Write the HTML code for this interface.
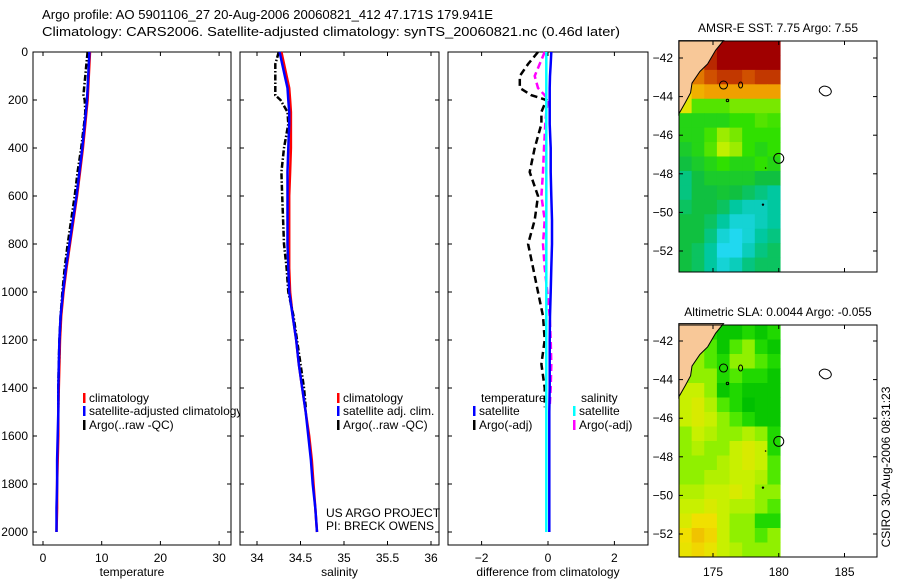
<!DOCTYPE html>
<html><head><meta charset="utf-8"><style>
body{margin:0;background:#fff;}
svg{display:block;font-family:"Liberation Sans",sans-serif;}
text{font-size:12px;fill:#000;}
</style></head><body>
<svg id="fig" width="900" height="580" viewBox="0 0 900 580">
<text x="42" y="19" textLength="451" lengthAdjust="spacingAndGlyphs" style="font-size:13px">Argo profile: AO 5901106_27 20-Aug-2006 20060821_412 47.171S 179.941E</text>
<text x="42" y="36" textLength="578" lengthAdjust="spacingAndGlyphs" style="font-size:13px">Climatology: CARS2006. Satellite-adjusted climatology: synTS_20060821.nc (0.46d later)</text>
<g id="g"></g>
</svg>
<script>
// ---------- data ----------
const depths = [0,50,100,150,200,250,300,400,500,600,700,800,900,1000,1100,1200,1300,1400,1500,1600,1700,1800,1900,2000];
const tempClim = [8.0,7.9,7.8,7.7,7.6,7.4,7.2,6.8,6.3,5.8,5.2,4.6,4.0,3.5,3.1,2.9,2.8,2.7,2.6,2.6,2.5,2.4,2.4,2.3];
const tempSat  = [7.9,7.8,7.7,7.6,7.5,7.3,7.1,6.7,6.2,5.7,5.1,4.5,3.9,3.4,3.0,2.8,2.7,2.6,2.6,2.5,2.4,2.4,2.3,2.3];
const argoDepths = [0,50,100,150,180,200,250,300,400,500,600,700,800,900,1000,1100,1200,1300,1400,1480];
const tempArgo = [7.6,7.4,7.2,7.0,6.9,7.1,7.2,7.0,6.5,5.9,5.4,4.8,4.2,3.7,3.3,3.0,2.8,2.7,2.6,2.6];
const salClim = [34.28,34.31,34.34,34.37,34.38,34.39,34.39,34.39,34.38,34.37,34.37,34.37,34.37,34.38,34.41,34.45,34.48,34.52,34.56,34.60,34.63,34.65,34.67,34.69];
const salSat  = [34.26,34.29,34.32,34.35,34.36,34.37,34.37,34.36,34.35,34.35,34.35,34.35,34.36,34.37,34.41,34.45,34.48,34.52,34.56,34.59,34.62,34.64,34.67,34.69];
const salArgo = [34.25,34.21,34.21,34.21,34.21,34.27,34.35,34.36,34.31,34.28,34.29,34.30,34.31,34.34,34.36,34.42,34.46,34.50,34.54,34.56];
const dTempSat = [0.1,0.08,0.06,0.05,0.05,0.05,0.05,0.08,0.08,0.1,0.12,0.12,0.1,0.08,0.06,0.05,0.05,0.05,0.04,0.04,0.04,0.04,0.04,0.04];
const dSalSat  = [-0.05,-0.05,-0.05,-0.05,-0.05,-0.05,-0.05,-0.05,-0.05,-0.05,-0.05,-0.05,-0.05,-0.05,-0.05,-0.05,-0.05,-0.05,-0.05,-0.05,-0.05,-0.05,-0.05,-0.05];
const dTempArgo = [-0.3,-0.6,-0.85,-0.85,-0.5,-0.05,-0.2,-0.2,-0.4,-0.55,-0.3,-0.4,-0.6,-0.45,-0.3,-0.15,-0.1,-0.2,-0.1,-0.1];
const dSalArgo = [-0.1,-0.25,-0.4,-0.3,-0.1,0,-0.05,-0.08,-0.12,-0.15,-0.2,-0.1,-0.15,-0.1,-0.02,0.05,0.08,0.1,0.08,0.05];

const tempTicks = [0,10,20,30];
const salTicks = [34,34.5,35,35.5,36];
const salTickLabels = ["34","34.5","35","35.5","36"];
const diffTicks = [-2,0,2];
const depthTicks = [0,200,400,600,800,1000,1200,1400,1600,1800,2000];

const sstGrid = [
[13.3,11,12.5,13.3,13.3,13.3,13.3,13.3],
[11.5,11.5,12.5,13.2,13.2,13.2,13.2,13.2],
[11,11.5,12,12.3,12.3,12,12.3,12.3],
[10.3,10.8,11,11,11,11,11,11],
[10,9,9,9,9.2,9.2,9.2,9.2],
[8.6,8.6,8.6,8.6,8.8,8.8,9,8.9],
[8.6,8.6,8.9,9.4,9.2,8.8,8.8,8.8],
[8.4,8.6,9.0,9.6,9.4,8.8,8.6,8.8],
[8.2,8.4,8.6,8.8,8.6,8.6,8.8,8.6],
[7.8,8.2,8.4,8.4,8.4,8.4,8.2,8.2],
[7.8,8.2,8.2,8.3,8.2,8.0,7.8,7.6],
[8.0,8.2,8.2,8.0,7.6,7.4,7.4,7.6],
[8.2,8.2,8.0,7.6,7.2,7.2,7.4,7.6],
[8.2,8.2,7.8,7.2,7.0,7.2,7.6,7.8],
[8.2,8.0,7.6,7.0,7.0,7.4,7.8,8.0],
[8.2,8.0,7.6,7.2,7.4,7.8,8.0,8.0]];
const slaGrid = [
[0,0.05,-0.05,-0.1,-0.1,-0.05,-0.1,-0.05],
[0,0.05,0,-0.1,0,0.05,-0.05,-0.1],
[0.05,0.05,0,-0.05,0.05,0.05,0,-0.05],
[0.05,0.05,0.05,-0.05,0,-0.05,-0.05,-0.1],
[0.1,0.1,0.05,-0.1,-0.05,-0.1,-0.1,-0.1],
[0.1,0.12,0.08,0,-0.05,-0.12,-0.1,-0.1],
[0.1,0.12,0.1,0.05,0,-0.05,-0.1,-0.1],
[0.05,0.1,0.08,0.05,0.05,0.08,0.05,-0.05],
[0.05,0.08,0.05,0.05,0.1,0.12,0.1,-0.05],
[0.05,0.05,0.05,0.08,0.1,0.12,0.1,0],
[0.05,0.05,0.08,0.08,0.1,0.1,0.08,0],
[0.08,0.08,0.1,0.1,0.12,0.1,0.05,0.05],
[0.1,0.1,0.12,0.1,0.08,0.08,0.05,0],
[0.12,0.15,0.15,0.1,0.05,0.05,-0.05,-0.05],
[0.15,0.18,0.16,0.1,0.05,0.05,0,0.05],
[0.14,0.16,0.14,0.1,0.08,0.05,0.05,0.05]];
const latTicks = [-42,-44,-46,-48,-50,-52];
const lonTicks = [175,180,185];

// ---------- helpers ----------
const NS="http://www.w3.org/2000/svg";
const G=document.getElementById('g');
function mk(tag,attrs,parent){const e=document.createElementNS(NS,tag);for(const k in attrs)e.setAttribute(k,attrs[k]);(parent||G).appendChild(e);return e;}
function txt(x,y,s,anchor,parent){const t=mk('text',{x:x,y:y,'text-anchor':anchor||'start'},parent);t.textContent=s;return t;}
const yD = d => 52 + d*0.24;
const PT = {x0:33,x1:231}, PS={x0:240,x1:439}, PD={x0:448,x1:648};
const xT = v => 43 + v*5.87;
const xS = v => 257 + (v-34)*87;
const xD = v => 548 + v*33.2;

function line(xs,ds,xf,color,dash,w,name){
  const pts = xs.map((v,i)=>xf(v).toFixed(1)+','+yD(ds[i]).toFixed(1)).join(' ');
  const p = mk('polyline',{points:pts,fill:'none',stroke:color,'stroke-width':w||2.5,'stroke-dasharray':dash||'none'});
  
  
}
function panel(P,xticks,xf,labels,xlabel,name){
  const r = mk('rect',{x:P.x0,y:52,width:P.x1-P.x0,height:493,fill:'#fff',stroke:'#000','stroke-width':1});
  
  
  xticks.forEach((v,i)=>{const x=xf(v);
    mk('line',{x1:x,y1:545,x2:x,y2:541,stroke:'#000'});mk('line',{x1:x,y1:52,x2:x,y2:56,stroke:'#000'});
    const t=txt(x,562,labels[i],'middle');
    
    
  });
  depthTicks.forEach(d=>{const y=yD(d);
    mk('line',{x1:P.x0,y1:y,x2:P.x0+4,y2:y,stroke:'#000'});mk('line',{x1:P.x1,y1:y,x2:P.x1-4,y2:y,stroke:'#000'});});
  const xl=txt((P.x0+P.x1)/2,576,xlabel,'middle');
  
  
}
function legendEntry(x,y,color,label,name){
  mk('rect',{x:x,y:y-9,width:2.5,height:10,fill:color});
  const t=txt(x+6,y,label);
  
  
}

// ---------- temperature panel ----------
panel(PT,tempTicks,xT,tempTicks.map(String),'temperature','temperature-panel');
depthTicks.forEach(d=>{const t=txt(28,yD(d)+4,String(d),'end');
  
  });
line(tempClim,depths,xT,'#f00',null,2.5,'temperature-climatology-line');
line(tempArgo,argoDepths,xT,'#000','6,2,1.5,2',2.5,'temperature-argo-line');
line(tempSat,depths,xT,'#00f',null,2.5,'temperature-satellite-line');
legendEntry(83,402,'#f00','climatology','temp-legend-climatology');
legendEntry(83,415,'#00f','satellite-adjusted climatology','temp-legend-satellite');
legendEntry(83,429,'#000','Argo(..raw -QC)','temp-legend-argo');

// ---------- salinity panel ----------
panel(PS,salTicks,xS,salTickLabels,'salinity','salinity-panel');
line(salClim,depths,xS,'#f00',null,2.5,'salinity-climatology-line');
line(salArgo,argoDepths,xS,'#000','6,2,1.5,2',2.5,'salinity-argo-line');
line(salSat,depths,xS,'#00f',null,2.5,'salinity-satellite-line');
legendEntry(337,402,'#f00','climatology','sal-legend-climatology');
legendEntry(337,415,'#00f','satellite adj. clim.','sal-legend-satellite');
legendEntry(337,429,'#000','Argo(..raw -QC)','sal-legend-argo');
let c1=txt(326,517,'US ARGO PROJECT');
let c2=txt(326,530,'PI: BRECK OWENS');

// ---------- difference panel ----------
panel(PD,diffTicks,xD,diffTicks.map(v=>v<0?'−'+Math.abs(v):String(v)),'difference from climatology','difference-panel');
line(dTempArgo,argoDepths,xD,'#000','7,4',2.5,'diff-temp-argo-line');
line(dSalArgo,argoDepths,xD,'#f0f','7,4',2.5,'diff-sal-argo-line');
line(dTempSat,depths,xD,'#00f',null,2.5,'diff-temp-satellite-line');
line(dSalSat,depths,xD,'#0ff',null,2.5,'diff-sal-satellite-line');
let lt=txt(481,402,'temperature');
let ls=txt(581,402,'salinity');
legendEntry(473,415,'#00f','satellite','diff-legend-temp-satellite');
legendEntry(473,429,'#000','Argo(-adj)','diff-legend-temp-argo');
legendEntry(573,415,'#0ff','satellite','diff-legend-sal-satellite');
legendEntry(573,429,'#f0f','Argo(-adj)','diff-legend-sal-argo');

// ---------- maps ----------
function rgb(c){return 'rgb('+c.join(',')+')';}
function interp(stops,v){
  if(v<=stops[0][0])return rgb(stops[0][1]);
  for(let i=1;i<stops.length;i++){if(v<=stops[i][0]){const a=stops[i-1],b=stops[i];const t=(v-a[0])/(b[0]-a[0]);
    return rgb([0,1,2].map(k=>Math.round(a[1][k]+(b[1][k]-a[1][k])*t)));}}
  return rgb(stops[stops.length-1][1]);
}
const sstStops=[[7,[32,216,240]],[7.6,[0,200,160]],[8.2,[16,192,64]],[8.8,[48,224,0]],[9.6,[192,240,0]],[10.2,[240,224,0]],[11,[240,160,0]],[12,[208,80,0]],[13,[160,0,0]]];
const slaStops=[[-0.12,[0,192,0]],[-0.05,[32,216,0]],[0,[80,232,0]],[0.05,[144,240,0]],[0.1,[200,240,0]],[0.15,[240,224,0]],[0.2,[240,176,0]]];

function drawMap(top,bottom,latRef,grid,stops,title,name){
  const lon = v => 713 + (v-175)*13.15;
  const lat = v => latRef + (-42 - v)*19.3;
  const g = mk('g',{});
  
  
  mk('rect',{x:679,y:top,width:198,height:bottom-top,fill:'#fff'},g);
  const x0=679,x1=lon(180.1),rows=grid.length,cols=grid[0].length;
  const cw=(x1-x0)/cols,ch=(bottom-top)/rows;
  grid.forEach((row,r)=>row.forEach((v,c)=>{
    const cell=mk('rect',{x:(x0+c*cw).toFixed(2),y:(top+r*ch).toFixed(2),width:(cw+0.5).toFixed(2),height:(ch+0.5).toFixed(2),fill:interp(stops,v)},g);
    
    
  }));
  const land=[[172.4,-41.1],[175.8,-41.1],[175.2,-41.6],[174.6,-42.3],[174.0,-42.7],[173.4,-43.3],[173.3,-43.8],[172.9,-44.3],[172.4,-44.9]];
  const lp=mk('polygon',{points:land.map(p=>lon(p[0]).toFixed(1)+','+lat(p[1]).toFixed(1)).join(' '),fill:'#f8c898',stroke:'#000','stroke-width':1},g);
  
  
  mk('circle',{cx:lon(175.8),cy:lat(-43.4),r:4,fill:'none',stroke:'#000'},g);
  mk('ellipse',{cx:lon(177.1),cy:lat(-43.4),rx:2,ry:3,fill:'none',stroke:'#000'},g);
  mk('circle',{cx:lon(176.1),cy:lat(-44.2),r:1.2,fill:'none',stroke:'#000'},g);
  mk('path',{d:'M'+lon(183.1)+','+lat(-43.6)+' q4,-5 10,-1 q3,3 1,6 q-5,4 -9,0 q-3,-2 -2,-5z',fill:'#fff',stroke:'#000'},g);
  const fl=mk('circle',{cx:lon(180),cy:lat(-47.2),r:5,fill:'none',stroke:'#000'},g);
  
  
  mk('circle',{cx:lon(178.8),cy:lat(-49.6),r:1.2,fill:'#000'},g);
  mk('circle',{cx:lon(179),cy:lat(-47.7),r:0.8,fill:'#000'},g);
  mk('rect',{x:679,y:top,width:198,height:bottom-top,fill:'none',stroke:'#000'},g);
  latTicks.forEach(v=>{const y=lat(v);mk('line',{x1:679,y1:y,x2:683,y2:y,stroke:'#000'},g);mk('line',{x1:877,y1:y,x2:873,y2:y,stroke:'#000'},g);
    const t=txt(673,y+4,'−'+Math.abs(v),'end',g);});
  lonTicks.forEach(v=>{const x=lon(v);mk('line',{x1:x,y1:top,x2:x,y2:top+4,stroke:'#000'},g);mk('line',{x1:x,y1:bottom,x2:x,y2:bottom-4,stroke:'#000'},g);});
  const tt=txt(778,top-9,title,'middle',g);
  
  
  return lon;
}
drawMap(41,272,58,sstGrid,sstStops,'AMSR-E SST: 7.75 Argo: 7.55','sst-map');
const lonF=drawMap(325,557,341,slaGrid,slaStops,'Altimetric SLA: 0.0044 Argo: -0.055','sla-map');
lonTicks.forEach(v=>{const t=txt(lonF(v),576,String(v),'middle');});
const cs=txt(0,0,'CSIRO 30-Aug-2006 08:31:23','middle');
cs.setAttribute('transform','translate(890,467) rotate(-90)');


</script>
</body></html>
